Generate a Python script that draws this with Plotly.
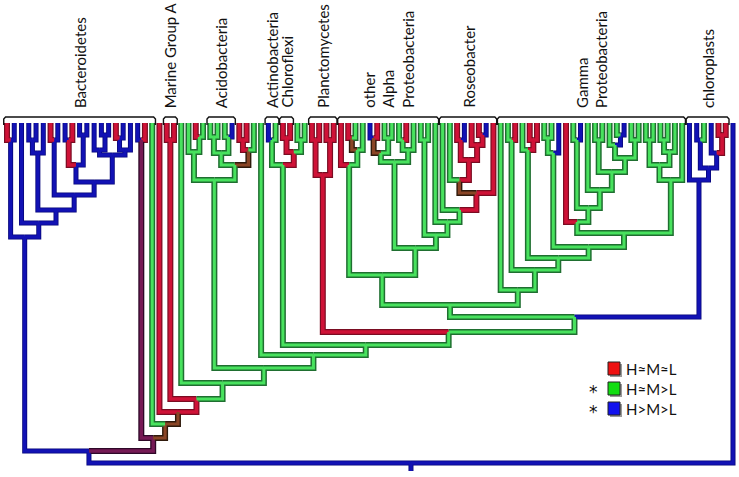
import plotly.graph_objects as go

# ---------------- data ----------------
# Leaves: R/G/B (H~M~L / H~M>L / H>M>L); internal nodes: (a,b)<colour><merge level>
# colour letters: r red, g green, b blue, p purple (mixed), o brown (mixed)
BACTEROIDETES = "((R,B)b140,(B,(((B,B)b140,B)b153,((R,B)b140,(((B,R)r140,(B,B)b135)b165,((B,(B,B)b135)b150,((R,B)b138,B)b150)b155)b182)b195)b210)b223)b237"
PURPLE_PAIR = "(B,R)p140"
MARINE_A = "(R,R)r140"
ACIDO = "((G,(R,G)g137)g152,(((G,G)g137,(G,B)g137)g153,((R,R)r140,G)o150)g165)g180"
ACT_CHL = "((B,G)g140,((R,R)r138,(G,G)g140)r152)g165"
PLANCTO = "((R,R)r140,(R,R)r140)r175"
ALPHA1 = "(R,((R,G)o138,G)g150)g165"
ALPHA2 = "(((B,R)o138,(G,G)g138)g153,((G,R)g140,G)g150)g162"
ALPHA3 = "(G,G)g140"
ROSEO = "(G,((G,((R,B)r140,(R,(R,B)r135)r145)r160)o180,R)r193)g210"
GAM_A = "(G,R)g140"
GAM_B = "(G,(R,R)r140)g150"
GAM_C = "((G,G)g138,B)g153"
GAM_D = "(G,B)g140"
GAM_J2 = "((G,(G,B)b135)g145,(G,G)g140)g158"
GAM_K2R = "(((G,G)g140,((G,G)g140,G)g152)g165,G)g180"
CHLORO = "(B,((B,G)b140,(B,(R,R)r135)b153)b168)b180"

GROUP_NAMES = ["Bacteroidetes", "Marine Group A", "Acidobacteria", "Actinobacteria",
               "Chloroflexi", "Planctomycetes", "other<br>Alpha<br>Proteobacteria",
               "Roseobacter", "Gamma<br>Proteobacteria", "chloroplasts"]
GROUP_FIRST = [0, 22, 28, 36, 38, 42, 46, 60, 68, 94]
GROUP_LAST = [20, 23, 31, 37, 39, 45, 59, 67, 93, 99]

LEGEND_LABELS = ["H\u2248M\u2248L", "H\u2248M>L", "H>M>L"]
LEGEND_STARS = ["", "*", "*"]
LEGEND_COLORS = ["#ee1111", "#11dd11", "#1111ee"]

# ---------------- assemble tree ----------------
gam_j1 = f"((G,G)g140,{GAM_J2})g172"
gam_k1 = f"(R,({GAM_D},(G,{gam_j1})g190)g208)g222"
gam_k3 = f"({GAM_C},({gam_k1},{GAM_K2R})g233)g247"
GAMMA = f"(G,({GAM_A},({GAM_B},{gam_k3})g258)g270)g290"
ALPHA_ROSEO = f"({ALPHA1},({ALPHA2},({ALPHA3},(G,{ROSEO})g222)g235)g248)g275"
s4 = f"(({ALPHA_ROSEO},{GAMMA})g305,{CHLORO})g317"
s1 = f"(G,({ACT_CHL},({PLANCTO},{s4})g332)g345)g355"
na = f"(G,({ACIDO},{s1})g368)g383"
ne = f"({PURPLE_PAIR},(G,(R,({MARINE_A},{na})r399)o412)o424)p438"
TREE = f"(({BACTEROIDETES},{ne})b451,B)b463"

TIP = 123
ROOT_TAIL = 471


def parse(s):
    pos = 0
    n_leaves = [0]

    def node():
        nonlocal pos
        if s[pos] == '(':
            pos += 1
            a = node()
            pos += 1  # ','
            b = node()
            pos += 1  # ')'
            c = s[pos]
            pos += 1
            j = pos
            while pos < len(s) and (s[pos].isdigit() or s[pos] == '.'):
                pos += 1
            return {"c": c, "h": float(s[j:pos]), "kids": [a, b], "x": (a["x"] + b["x"]) / 2}
        c = s[pos].lower()
        pos += 1
        i = n_leaves[0]
        n_leaves[0] += 1
        return {"c": c, "h": TIP, "kids": [], "x": float(i)}

    return node()


root = parse(TREE)

segs = {}


def walk(n, parent):
    if parent is None:
        path = [(n["x"], n["h"]), (n["x"], ROOT_TAIL)]
    else:
        path = [(n["x"], n["h"]), (n["x"], parent["h"]), (parent["x"], parent["h"])]
    segs.setdefault(n["c"], []).append(path)
    for k in n["kids"]:
        walk(k, n)


walk(root, None)

STYLE = {
    "g": ("#1f6f30", 6.0, "#48e25e", 3.0),
    "r": ("#7a0c22", 6.0, "#cf1237", 3.6),
    "b": ("#06067a", 5.0, "#1212b4", 3.4),
    "p": ("#2e0828", 6.0, "#761a55", 3.4),
    "o": ("#2f1a0c", 6.0, "#8a4526", 3.2),
}

fig = go.Figure()
for layer in (0, 1):
    for c, paths in segs.items():
        xs, ys = [], []
        for p in paths:
            for (x, y) in p:
                xs.append(x)
                ys.append(y)
            xs.append(None)
            ys.append(None)
        oc, ow, fc, fw = STYLE[c]
        fig.add_trace(go.Scatter(x=xs, y=ys, mode="lines",
                                 line=dict(color=oc if layer == 0 else fc,
                                           width=ow if layer == 0 else fw),
                                 hoverinfo="skip", showlegend=False))

# brackets and labels
PAD = 0.45
bx, by = [], []
for name, f, l in zip(GROUP_NAMES, GROUP_FIRST, GROUP_LAST):
    x0, x1 = f - PAD, l + PAD
    bx += [x0, x0, x0 + 0.25, x1 - 0.25, x1, x1, None]
    by += [125, 119, 117, 117, 119, 125, None]
    fig.add_annotation(x=(x0 + x1) / 2, y=110, text=name, textangle=-90,
                       xanchor="center", yanchor="bottom", showarrow=False, align="left",
                       font=dict(family="Lato", size=15, color="#111111"))
fig.add_trace(go.Scatter(x=bx, y=by, mode="lines", line=dict(color="#111111", width=1.4),
                         hoverinfo="skip", showlegend=False))

# legend
W, H = 739.0, 477.0
for i, (lab, star, col) in enumerate(zip(LEGEND_LABELS, LEGEND_STARS, LEGEND_COLORS)):
    cy = 369 + 20 * i
    fig.add_shape(type="rect", xref="paper", yref="paper",
                  x0=610 / W, x1=622 / W, y0=1 - (cy + 8) / H, y1=1 - (cy - 5) / H,
                  fillcolor="#9a9a9a", line=dict(width=0))
    fig.add_shape(type="rect", xref="paper", yref="paper",
                  x0=608 / W, x1=620 / W, y0=1 - (cy + 6) / H, y1=1 - (cy - 7) / H,
                  fillcolor=col, line=dict(color="#222222", width=1))
    fig.add_annotation(xref="paper", yref="paper", x=624 / W, y=1 - cy / H, text=lab,
                       xanchor="left", yanchor="middle", showarrow=False,
                       font=dict(family="Lato", size=15, color="#111111"))
    if star:
        fig.add_annotation(xref="paper", yref="paper", x=593 / W, y=1 - (cy + 3) / H, text=star,
                           xanchor="center", yanchor="middle", showarrow=False,
                           font=dict(family="DejaVu Sans", size=17, color="#111111"))

fig.update_layout(width=739, height=477, margin=dict(l=0, r=0, t=0, b=0),
                  paper_bgcolor="white", plot_bgcolor="white", showlegend=False)
fig.update_xaxes(range=[-7 / 7.26, 732 / 7.26], visible=False)
fig.update_yaxes(range=[477, 0], visible=False)
fig.write_html("out.html", config={"displayModeBar": False},
               post_script="document.body.style.margin='0';document.body.style.padding='0';")
